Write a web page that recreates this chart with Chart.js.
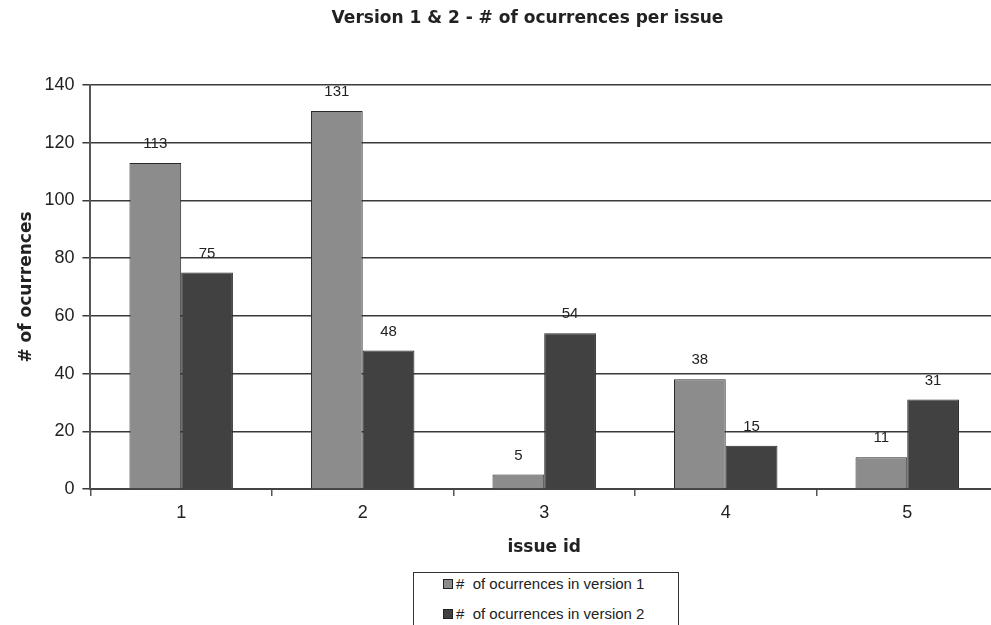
<!DOCTYPE html>
<html>
<head>
<meta charset="utf-8">
<script src="https://cdn.jsdelivr.net/npm/chart.js@4"></script>
<style>
  body { margin: 0; background: #fff; overflow: hidden; }
  .wrap { position: relative; width: 991px; height: 625px; overflow: hidden; }
  .legend {
    position: absolute; left: 413px; top: 572px; width: 264px; height: 70px;
    border: 1px solid #333; background: #fff;
    font: 15px "Liberation Sans", Arial, sans-serif; color: #222;
  }
  .legend-item { position: absolute; left: 29px; height: 17px; line-height: 17px; }
  .legend-label { white-space: pre; }
  .legend-box { display: inline-block; width: 8px; height: 8px; border: 1px solid #222; margin-right: 3px; vertical-align: 0; }
</style>
</head>
<body>
<div class="wrap">
  <canvas id="myChart" width="1055" height="625"></canvas>
  <div class="legend"></div>
</div>
<script>
const issueIds = ["1", "2", "3", "4", "5"];
const version1 = [113, 131, 5, 38, 11];
const version2 = [75, 48, 54, 15, 31];
const yTicks = [0, 20, 40, 60, 80, 100, 120, 140];
const chartTitle = "Version 1 & 2 - # of ocurrences per issue";

const legendEl = document.querySelector(".legend");

const data = {
  labels: issueIds,
  datasets: [
    {
      label: "#  of ocurrences in version 1",
      data: version1,
      backgroundColor: "#8c8c8c",
      borderColor: "#2a2a2a",
      borderWidth: 1,
    },
    {
      label: "#  of ocurrences in version 2",
      data: version2,
      backgroundColor: "#414141",
      borderColor: "#2a2a2a",
      borderWidth: 1,
    },
  ],
};

// value labels above each bar + title centred on the whole canvas
const barValues = {
  id: "barValues",
  afterDatasetsDraw(chart) {
    const ctx = chart.ctx;
    ctx.save();
    ctx.font = '15px "Liberation Sans", Arial, sans-serif';
    ctx.fillStyle = "#222";
    ctx.textAlign = "center";
    ctx.textBaseline = "middle";
    chart.data.datasets.forEach((ds, i) => {
      chart.getDatasetMeta(i).data.forEach((bar, j) => {
        ctx.fillText(ds.data[j], bar.x, bar.y - 19);
      });
    });
    ctx.font = 'bold 17px "DejaVu Sans", sans-serif';
    ctx.fillText(chartTitle, chart.width / 2, 19);
    ctx.restore();
  },
};

const config = {
  type: "bar",
  data: data,
  options: {
    responsive: false,
    animation: false,
    devicePixelRatio: 1,
    categoryPercentage: 0.57,
    barPercentage: 1,
    layout: { padding: { left: 6, right: 57, top: 85, bottom: 63 } },
    plugins: {
      legend: { display: false },
      tooltip: { enabled: false },
      title: { display: false },
    },
    scales: {
      x: {
        grid: {
          offset: true,
          drawOnChartArea: false,
          tickLength: 7,
          color: "#555",
          lineWidth: 1.5,
        },
        border: { color: "#444", width: 2 },
        ticks: {
          color: "#222",
          padding: 6,
          font: { family: "Liberation Sans", size: 18 },
        },
        title: {
          display: true,
          text: "issue id",
          color: "#222",
          font: { family: "DejaVu Sans", size: 17, weight: "bold" },
          padding: { top: 8, bottom: 4 },
        },
      },
      y: {
        min: 0,
        max: 140,
        afterBuildTicks: (scale) => {
          scale.ticks = yTicks.map((v) => ({ value: v }));
        },
        grid: {
          color: "#3a3a3a",
          lineWidth: 1.5,
          tickLength: 8,
        },
        border: { color: "#555", width: 2 },
        ticks: {
          color: "#222",
          padding: 8,
          font: { family: "Liberation Sans", size: 18 },
        },
        title: {
          display: true,
          text: "# of ocurrences",
          color: "#222",
          font: { family: "DejaVu Sans", size: 17, weight: "bold" },
          padding: { top: 10, bottom: 0 },
        },
      },
    },
  },
  plugins: [barValues],
};

const chart = new Chart(document.getElementById("myChart"), config);

function displayLegend() {
  data.datasets.forEach((ds, i) => {
    const html = `<div class="legend-item" style="top:${2 + i * 30}px"><span class="legend-box" style="background:${ds.backgroundColor}"></span><span class="legend-label">${ds.label}</span></div>`;
    legendEl.insertAdjacentHTML("beforeend", html);
  });
}

displayLegend();
</script>
</body>
</html>
